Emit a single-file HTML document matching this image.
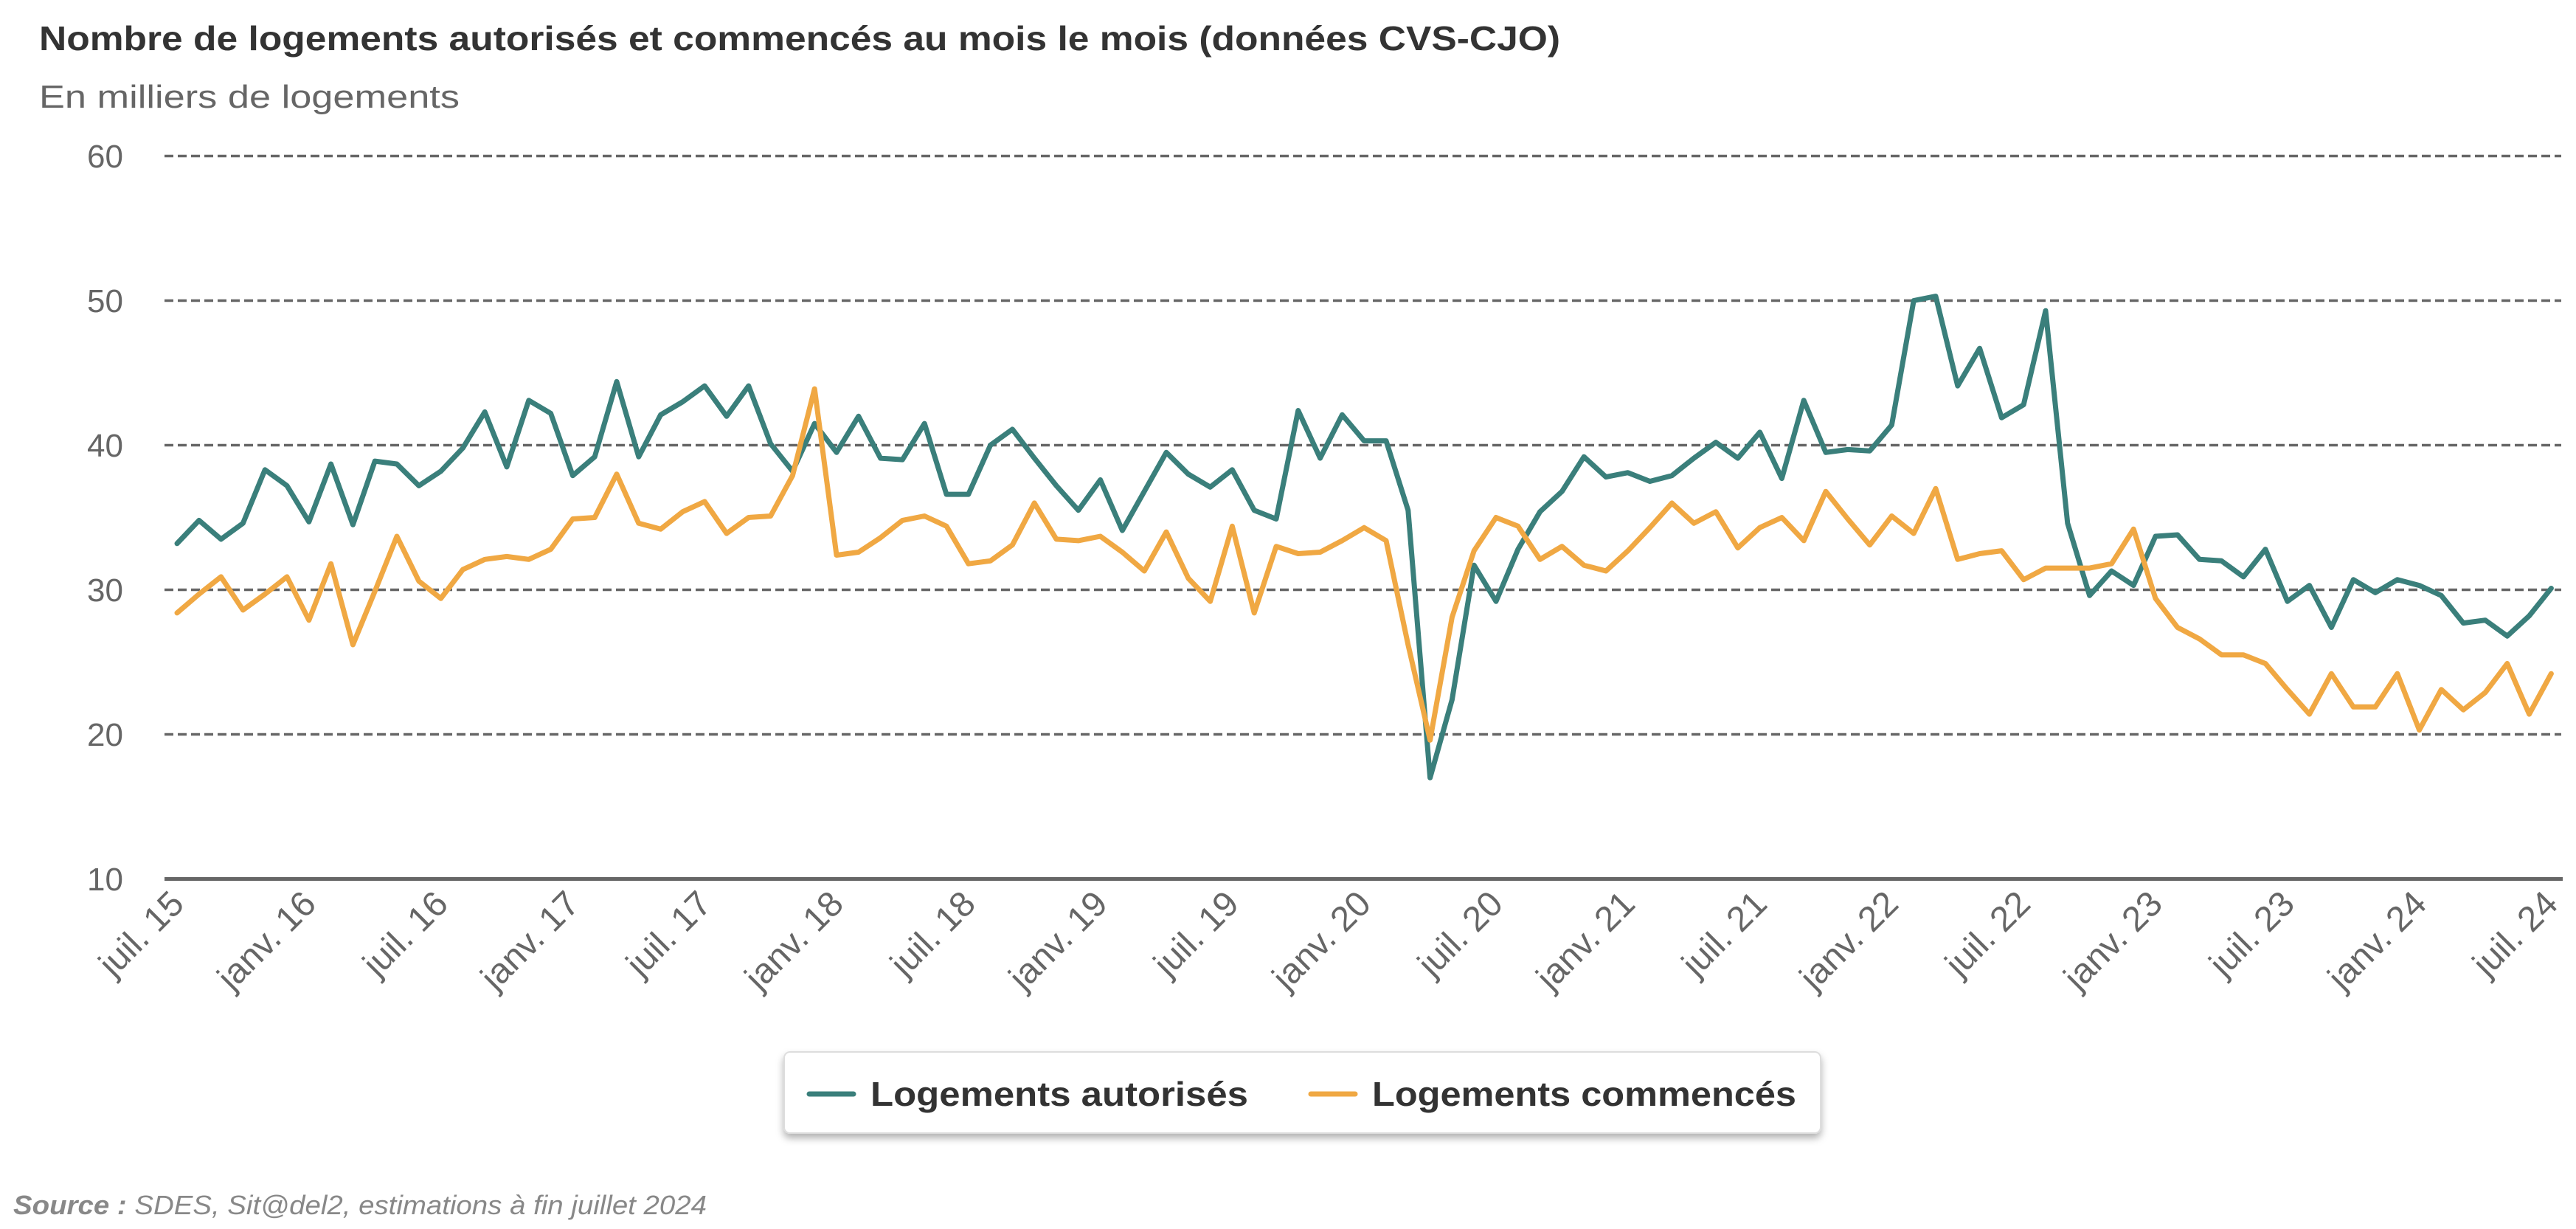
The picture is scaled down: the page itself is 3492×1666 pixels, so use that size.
<!DOCTYPE html>
<html><head><meta charset="utf-8">
<style>
html,body{margin:0;padding:0;background:#fff;}
svg{display:block;}
text{font-family:"Liberation Sans",sans-serif;}
</style></head>
<body>
<svg id="s" width="3492" height="1666" viewBox="0 0 3492 1666" xmlns="http://www.w3.org/2000/svg">
<rect width="3492" height="1666" fill="#fff"/>
<text x="53" y="68" font-size="46" font-weight="bold" fill="#333" textLength="2062" lengthAdjust="spacingAndGlyphs">Nombre de logements autorisés et commencés au mois le mois (données CVS-CJO)</text>
<text x="53" y="146" font-size="44" fill="#666" textLength="570" lengthAdjust="spacingAndGlyphs">En milliers de logements</text>
<g stroke="#666" stroke-width="3.5" stroke-dasharray="12 6">
<line x1="223" x2="3472" y1="211.5" y2="211.5"/>
<line x1="223" x2="3472" y1="407.5" y2="407.5"/>
<line x1="223" x2="3472" y1="603.5" y2="603.5"/>
<line x1="223" x2="3472" y1="799.5" y2="799.5"/>
<line x1="223" x2="3472" y1="995.5" y2="995.5"/>
</g>
<line x1="223" x2="3474" y1="1191.5" y2="1191.5" stroke="#666" stroke-width="5"/>
<g font-size="44" fill="#666" text-anchor="end">
<text x="167" y="227">60</text>
<text x="167" y="423">50</text>
<text x="167" y="619">40</text>
<text x="167" y="815">30</text>
<text x="167" y="1011">20</text>
<text x="167" y="1207">10</text>
</g>
<g font-size="48" fill="#666" text-anchor="end">
<text transform="translate(252,1228) rotate(-45)">juil. 15</text>
<text transform="translate(431,1228) rotate(-45)">janv. 16</text>
<text transform="translate(610,1228) rotate(-45)">juil. 16</text>
<text transform="translate(788,1228) rotate(-45)">janv. 17</text>
<text transform="translate(967,1228) rotate(-45)">juil. 17</text>
<text transform="translate(1146,1228) rotate(-45)">janv. 18</text>
<text transform="translate(1325,1228) rotate(-45)">juil. 18</text>
<text transform="translate(1504,1228) rotate(-45)">janv. 19</text>
<text transform="translate(1682,1228) rotate(-45)">juil. 19</text>
<text transform="translate(1861,1228) rotate(-45)">janv. 20</text>
<text transform="translate(2040,1228) rotate(-45)">juil. 20</text>
<text transform="translate(2219,1228) rotate(-45)">janv. 21</text>
<text transform="translate(2398,1228) rotate(-45)">juil. 21</text>
<text transform="translate(2576,1228) rotate(-45)">janv. 22</text>
<text transform="translate(2755,1228) rotate(-45)">juil. 22</text>
<text transform="translate(2934,1228) rotate(-45)">janv. 23</text>
<text transform="translate(3113,1228) rotate(-45)">juil. 23</text>
<text transform="translate(3292,1228) rotate(-45)">janv. 24</text>
<text transform="translate(3470,1228) rotate(-45)">juil. 24</text>
</g>
<polyline id="pa" fill="none" stroke="#3a7f7b" stroke-width="7" stroke-linejoin="round" stroke-linecap="round"/>
<polyline id="pc" fill="none" stroke="#f0a843" stroke-width="7" stroke-linejoin="round" stroke-linecap="round"/>
<defs><filter id="sh" x="-5%" y="-20%" width="110%" height="150%"><feDropShadow dx="0" dy="6" stdDeviation="5" flood-color="#000" flood-opacity="0.3"/></filter></defs>
<rect x="1063" y="1426" width="1405" height="110" rx="8" fill="#fff" stroke="#ddd" stroke-width="2" filter="url(#sh)"/>
<line x1="1097" x2="1157" y1="1483" y2="1483" stroke="#3a7f7b" stroke-width="7" stroke-linecap="round"/>
<text x="1180" y="1499" font-size="46" font-weight="bold" fill="#333" textLength="512" lengthAdjust="spacingAndGlyphs">Logements autorisés</text>
<line x1="1777" x2="1837" y1="1483" y2="1483" stroke="#f0a843" stroke-width="7" stroke-linecap="round"/>
<text x="1860" y="1499" font-size="46" font-weight="bold" fill="#333" textLength="575" lengthAdjust="spacingAndGlyphs">Logements commencés</text>
<text x="18" y="1646" font-size="36" font-style="italic" fill="#888" textLength="940" lengthAdjust="spacingAndGlyphs"><tspan font-weight="bold">Source :</tspan> SDES, Sit@del2, estimations à fin juillet 2024</text>
</svg>
<script>
var A=[33.2,34.8,33.5,34.6,38.3,37.2,34.7,38.7,34.5,38.9,38.7,37.2,38.2,39.8,42.3,38.5,43.1,42.2,37.9,39.2,44.4,39.2,42.1,43.0,44.1,42.0,44.1,40.1,38.2,41.5,39.5,42.0,39.1,39.0,41.5,36.6,36.6,40.0,41.1,39.1,37.2,35.5,37.6,34.1,36.8,39.5,38.0,37.1,38.3,35.5,34.9,42.4,39.1,42.1,40.3,40.3,35.5,17.0,22.4,31.7,29.2,32.8,35.4,36.8,39.2,37.8,38.1,37.5,37.9,39.1,40.2,39.1,40.9,37.7,43.1,39.5,39.7,39.6,41.4,50.0,50.3,44.1,46.7,41.9,42.8,49.3,34.6,29.6,31.3,30.3,33.7,33.8,32.1,32.0,30.9,32.8,29.2,30.3,27.4,30.7,29.8,30.7,30.3,29.6,27.7,27.9,26.8,28.2,30.1];
var C=[28.4,29.7,30.9,28.6,29.7,30.9,27.9,31.8,26.2,29.9,33.7,30.6,29.4,31.4,32.1,32.3,32.1,32.8,34.9,35.0,38.0,34.6,34.2,35.4,36.1,33.9,35.0,35.1,37.9,43.9,32.4,32.6,33.6,34.8,35.1,34.4,31.8,32.0,33.1,36.0,33.5,33.4,33.7,32.6,31.3,34.0,30.8,29.2,34.4,28.4,33.0,32.5,32.6,33.4,34.3,33.4,26.2,19.6,28.1,32.7,35.0,34.4,32.1,33.0,31.7,31.3,32.7,34.3,36.0,34.6,35.4,32.9,34.3,35.0,33.4,36.8,34.9,33.1,35.1,33.9,37.0,32.1,32.5,32.7,30.7,31.5,31.5,31.5,31.8,34.2,29.4,27.4,26.6,25.5,25.5,24.9,23.1,21.4,24.2,21.9,21.9,24.2,20.3,23.1,21.7,22.9,24.9,21.4,24.2];
function pts(d){return d.map(function(v,i){return (240+29.8*i).toFixed(1)+","+(1191.5-(v-10)*19.6).toFixed(1);}).join(" ");}
document.getElementById("pa").setAttribute("points",pts(A));
document.getElementById("pc").setAttribute("points",pts(C));
</script>
</body></html>
